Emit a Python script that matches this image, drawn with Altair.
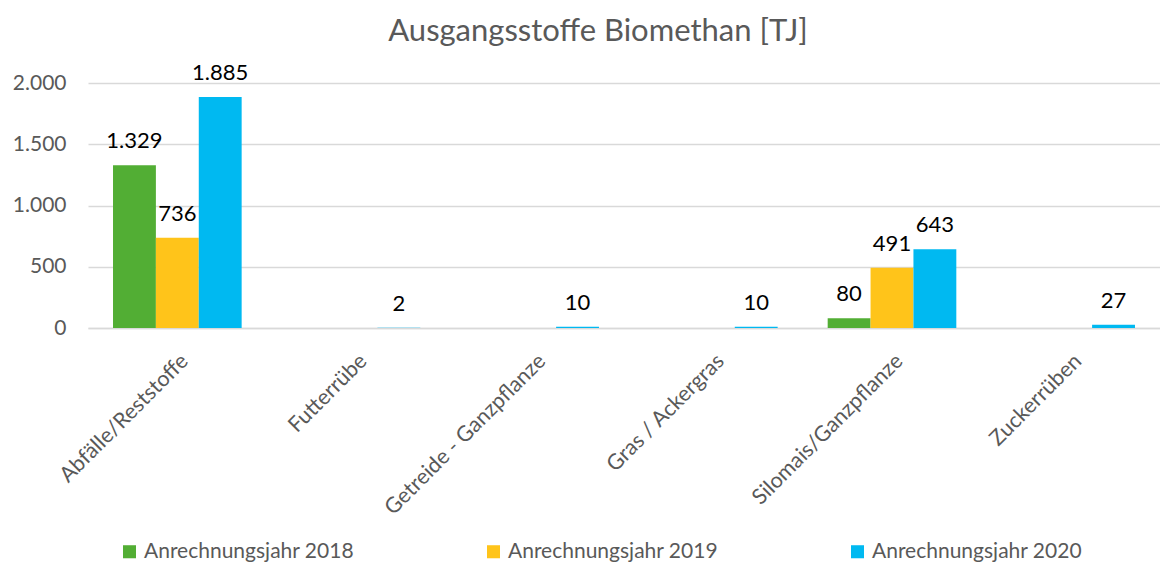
import altair as alt
import pandas as pd

categories = ["Abfälle/Reststoffe", "Futterrübe", "Getreide - Ganzpflanze",
              "Gras / Ackergras", "Silomais/Ganzpflanze", "Zuckerrüben"]
series = ["Anrechnungsjahr 2018", "Anrechnungsjahr 2019", "Anrechnungsjahr 2020"]
v2018 = [1329, None, None, None, 80, None]
v2019 = [736, None, None, None, 491, None]
v2020 = [1885, 2, 10, 10, 643, 27]
colors = ["#52ae34", "#ffc41a", "#00b9f1"]
y_ticks = [0, 500, 1000, 1500, 2000]

rows = []
for s, vals in zip(series, [v2018, v2019, v2020]):
    for c, v in zip(categories, vals):
        if v is not None:
            rows.append({"Kategorie": c, "Serie": s, "Wert": v})
df = pd.DataFrame(rows)

FONT = "Lato"
GREY = "#595959"

base = alt.Chart(df).encode(
    x=alt.X("Kategorie:N", sort=categories, title=None,
            scale=alt.Scale(paddingInner=0.28, paddingOuter=0.14),
            axis=alt.Axis(labelAngle=-45, labelFontSize=21.5, labelColor=GREY,
                          ticks=False, domainColor="#d9d9d9", domainWidth=1.3,
                          labelPadding=22, labelLimit=400)),
    xOffset=alt.XOffset("Serie:N", sort=series,
                        scale=alt.Scale(domain=series, paddingInner=0, paddingOuter=0)),
)

bars = base.mark_bar().encode(
    y=alt.Y("Wert:Q", title=None,
            scale=alt.Scale(domain=[0, 2000], nice=False),
            axis=alt.Axis(values=y_ticks, labelFontSize=21, labelColor=GREY,
                          ticks=False, domain=False, gridColor="#d9d9d9",
                          gridWidth=1.3, labelPadding=22,
                          labelExpr="replace(format(datum.value, ','), ',', '.')")),
    color=alt.Color("Serie:N", sort=series,
                    scale=alt.Scale(domain=series, range=colors),
                    legend=alt.Legend(title=None, orient="none", direction="horizontal",
                                      legendX=31, legendY=458,
                                      symbolType="square", symbolSize=170,
                                      symbolStrokeWidth=0,
                                      labelFontSize=21, labelColor=GREY,
                                      labelOffset=4, columnPadding=128,
                                      labelLimit=400)),
)

labels = base.transform_calculate(
    label="replace(format(datum.Wert, ','), ',', '.')"
).mark_text(baseline="bottom", dy=-12, fontSize=22, color="#000000").encode(
    y=alt.Y("Wert:Q"),
    text=alt.Text("label:N"),
)

chart = alt.layer(bars, labels).properties(
    width=1072,
    height=245,
    title=alt.TitleParams("Ausgangsstoffe Biomethan [TJ]", fontSize=31,
                          color=GREY, fontWeight="normal", anchor="middle",
                          frame="group", dx=-26, offset=14),
    autosize=alt.AutoSizeParams(type="none"),
    padding={"left": 80, "top": 75, "right": 0, "bottom": 240},
).configure(font=FONT).configure_view(stroke=None)

chart.save("out.html", embed_options={"renderer": "svg", "actions": False})
